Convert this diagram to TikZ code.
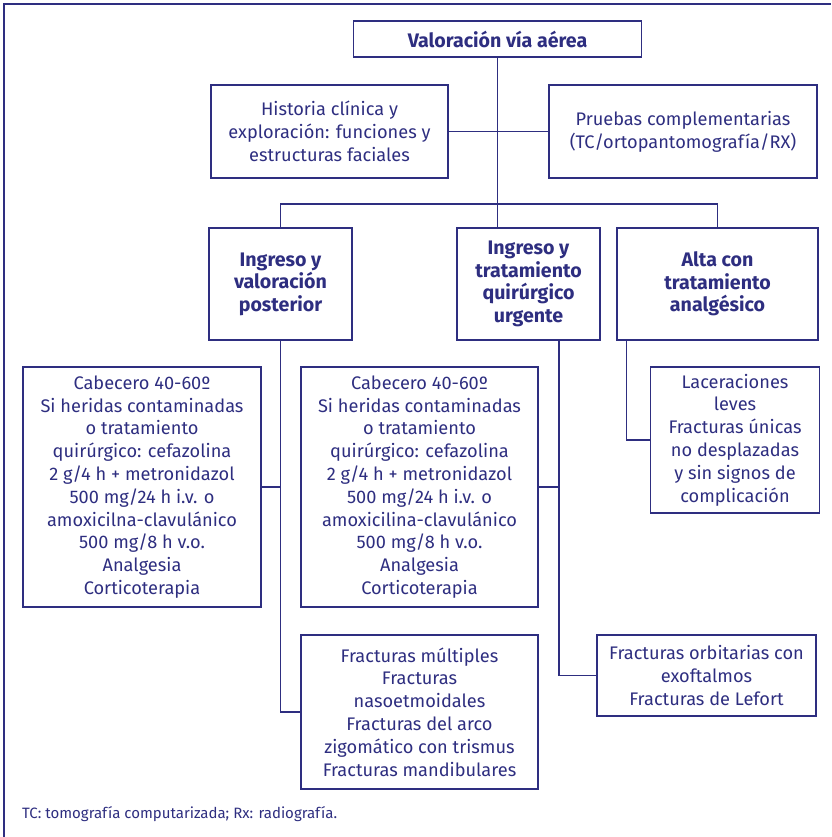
\documentclass[tikz,border=0pt]{standalone}
\usepackage{fontspec}
\setmainfont{Fira Sans}
\usepackage{tikz}
\usetikzlibrary{positioning,calc}
\definecolor{navy}{RGB}{46,46,128}

\tikzset{
  box/.style={draw=navy, line width=1.3pt, text=navy, align=center,
    inner sep=0pt, font=\fontsize{18.2}{22.8}\selectfont},
  hdr/.style={box, font=\fontsize{19.6}{22.5}\selectfont\bfseries},
  link/.style={draw=navy, line width=1.3pt},
}

\begin{document}
\begin{tikzpicture}[x=1pt,y=-1pt]
  \useasboundingbox (0,0) rectangle (831,837);

  % frame
  \draw[navy, line width=2.6pt] (4,837) -- (4,4) -- (831,4);

  \node[hdr, minimum width=288pt, minimum height=36pt] (via) at (497.5,39) {Valoración vía aérea};
  \node[box, minimum width=237pt, minimum height=93pt] (hist) at (329.5,131.5)
    {Historia clínica y\\exploración: funciones y\\estructuras faciales};
  \node[box, minimum width=268pt, minimum height=93pt] (prueb) at (683,131.5)
    {Pruebas complementarias\\(TC/ortopantomografía/RX)};

  \node[hdr, minimum width=143pt, minimum height=112pt] (ingval) at (280.5,284)
    {Ingreso y\\valoración\\posterior};
  \node[hdr, minimum width=143pt, minimum height=112pt] (ingqx) at (528.5,284)
    {Ingreso y\\tratamiento\\quirúrgico\\urgente};
  \node[hdr, minimum width=201pt, minimum height=112pt] (alta) at (717.5,284)
    {Alta con\\tratamiento\\analgésico};

  \node[box, minimum width=238pt, minimum height=240pt] (cab1) at (142,487)
    {Cabecero 40-60º\\Si heridas contaminadas\\o tratamiento\\quirúrgico: cefazolina\\2 g/4 h + metronidazol\\500 mg/24 h i.v. o\\amoxicilna-clavulánico\\500 mg/8 h v.o.\\Analgesia\\Corticoterapia};
  \node[box, minimum width=237pt, minimum height=240pt] (cab2) at (419.5,487)
    {Cabecero 40-60º\\Si heridas contaminadas\\o tratamiento\\quirúrgico: cefazolina\\2 g/4 h + metronidazol\\500 mg/24 h i.v. o\\amoxicilina-clavulánico\\500 mg/8 h v.o.\\Analgesia\\Corticoterapia};
  \node[box, minimum width=169pt, minimum height=146pt] (lacer) at (735,440)
    {Laceraciones\\leves\\Fracturas únicas\\no desplazadas\\y sin signos de\\complicación};
  \node[box, minimum width=237pt, minimum height=154pt] (fmult) at (419.5,712)
    {Fracturas múltiples\\Fracturas\\nasoetmoidales\\Fracturas del arco\\zigomático con trismus\\Fracturas mandibulares};
  \node[box, minimum width=219pt, minimum height=81pt] (forb) at (706.5,675.5)
    {Fracturas orbitarias con\\exoftalmos\\Fracturas de Lefort};

  \node[text=navy, anchor=west, inner sep=0pt, font=\fontsize{15}{18}\selectfont] (nota) at (22,814)
    {TC: tomografía computarizada; Rx: radiografía.};

  % connectors
  \coordinate (split) at (497.5,204);
  \draw[link] (via.south) -- (via.south |- ingqx.north);
  \draw[link] (hist) -- (prueb);
  \draw[link] (ingval.north) -- (ingval.north |- split) -- (alta.north |- split) -- (alta.north);

  \draw[link] (ingval.south) |- (fmult.west);
  \draw[link] (cab1.east) -- (cab1.east -| ingval.south);

  \draw[link] ($(ingqx.south)+(30.5,0)$) |- (forb.west);
  \draw[link] (cab2.east) -- ++(21,0);

  \draw[link] ($(alta.south west)+(10,0)$) |- (lacer.west);

\end{tikzpicture}
\end{document}
